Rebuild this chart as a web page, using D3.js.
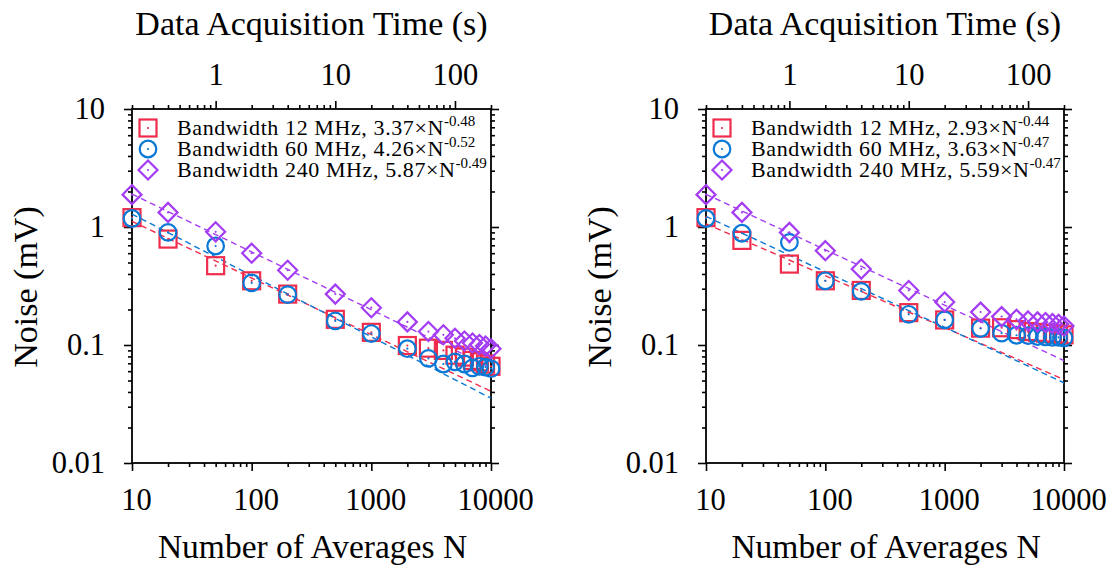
<!DOCTYPE html>
<html>
<head>
<meta charset="utf-8">
<title>Noise vs Number of Averages</title>
<script src="https://d3js.org/d3.v7.min.js"></script>
<style>
  body { margin: 0; background: #fff; }
  svg { display: block; }
  svg text { font-family: "Liberation Serif", "DejaVu Serif", serif !important; fill: #000; }
</style>
</head>
<body>
<svg id="chart" width="1109" height="565" font-family="Liberation Serif, DejaVu Serif, serif"></svg>
<script>
// number of averages N (same for both panels)
let nAverages = [10, 20, 50, 100, 200, 500, 1000, 2000, 3000, 4000, 5000, 6000, 7000, 8000, 9000, 10000];
let bandwidths = ["12", "60", "240"];

// left panel, noise in mV
let leftNoise12  = [1.20, 0.79, 0.47, 0.35, 0.27, 0.165, 0.128, 0.099, 0.094, 0.090, 0.082, 0.079, 0.074, 0.072, 0.069, 0.066];
let leftNoise60  = [1.18, 0.90, 0.69, 0.336, 0.267, 0.160, 0.125, 0.093, 0.077, 0.069, 0.072, 0.069, 0.064, 0.066, 0.065, 0.063];
let leftNoise240 = [1.88, 1.33, 0.91, 0.60, 0.43, 0.27, 0.207, 0.157, 0.130, 0.122, 0.114, 0.108, 0.104, 0.101, 0.098, 0.093];
let leftFits = [[3.37, -0.48], [4.26, -0.52], [5.87, -0.49]];

// right panel, noise in mV
let rightNoise12  = [1.20, 0.77, 0.485, 0.35, 0.29, 0.188, 0.163, 0.139, 0.140, 0.135, 0.130, 0.128, 0.126, 0.125, 0.124, 0.122];
let rightNoise60  = [1.18, 0.885, 0.74, 0.35, 0.285, 0.182, 0.163, 0.138, 0.126, 0.121, 0.120, 0.118, 0.117, 0.116, 0.116, 0.115];
let rightNoise240 = [1.88, 1.33, 0.90, 0.63, 0.44, 0.29, 0.231, 0.190, 0.174, 0.165, 0.160, 0.157, 0.155, 0.152, 0.150, 0.145];
let rightFits = [[2.93, -0.44], [3.63, -0.47], [5.59, -0.47]];

// acquisition time per average (s) -> top axis
let secondsPerAverage = 0.02;

let noiseTicks = [0.01, 0.1, 1, 10];
let averagesTicks = [10, 100, 1000, 10000];
let timeTicks = [1, 10, 100];

let colors = ["#f02c4c", "#0a78d6", "#a33cf2"];
let symbols = ["square", "circle", "diamond"];

let svg = d3.select("#chart");

drawPanel(132, 491, [leftNoise12, leftNoise60, leftNoise240], leftFits);
drawPanel(706, 1064, [rightNoise12, rightNoise60, rightNoise240], rightFits);

function drawPanel(x0, x1, series, fits) {
  let top = 109, bottom = 463;
  let g = svg.append("g");

  let x = d3.scaleLog().domain([10, 10000]).range([x0, x1]);
  let y = d3.scaleLog().domain([0.01, 10]).range([bottom, top]);
  let t = d3.scaleLog()
    .domain([10 * secondsPerAverage, 10000 * secondsPerAverage])
    .range([x0, x1]);

  let fmt = d => String(d);
  let minorOf = (scale, majors) => scale.ticks().filter(v => !majors.some(m => Math.abs(m - v) < 1e-9));

  // axes: ticks pointing outward, major 8px, minor 4px
  let axes = g.append("g").attr("class", "axes");

  axes.append("g").attr("transform", "translate(" + x0 + ",0)")
    .call(d3.axisLeft(y).tickValues(noiseTicks).tickFormat(fmt).tickSize(8).tickPadding(19));
  axes.append("g").attr("transform", "translate(" + x0 + ",0)")
    .call(d3.axisLeft(y).tickValues(minorOf(y, noiseTicks)).tickFormat("").tickSize(4));
  axes.append("g").attr("transform", "translate(" + x1 + ",0)")
    .call(d3.axisRight(y).tickValues(noiseTicks).tickFormat("").tickSize(8));
  axes.append("g").attr("transform", "translate(" + x1 + ",0)")
    .call(d3.axisRight(y).tickValues(minorOf(y, noiseTicks)).tickFormat("").tickSize(4));

  axes.append("g").attr("transform", "translate(0," + bottom + ")")
    .call(d3.axisBottom(x).tickValues(averagesTicks).tickFormat(fmt).tickSize(8).tickPadding(17))
    .selectAll("text").attr("dx", 4);
  axes.append("g").attr("transform", "translate(0," + bottom + ")")
    .call(d3.axisBottom(x).tickValues(minorOf(x, averagesTicks)).tickFormat("").tickSize(4));

  axes.append("g").attr("transform", "translate(0," + top + ")")
    .call(d3.axisTop(t).tickValues(timeTicks).tickFormat(fmt).tickSize(8).tickPadding(16));
  axes.append("g").attr("transform", "translate(0," + top + ")")
    .call(d3.axisTop(t).tickValues(minorOf(t, timeTicks)).tickFormat("").tickSize(4));

  axes.selectAll(".domain").remove();
  axes.selectAll("g").attr("font-family", null);
  axes.selectAll(".tick line").attr("stroke", "#000").attr("stroke-width", 1.6);
  axes.selectAll(".tick text").attr("font-size", 30.5);

  // frame
  g.append("rect")
    .attr("x", x0).attr("y", top)
    .attr("width", x1 - x0).attr("height", bottom - top)
    .attr("fill", "none").attr("stroke", "#000").attr("stroke-width", 1.8);

  // axis titles
  let xc = (x0 + x1) / 2;
  g.append("text").attr("x", xc).attr("y", 35)
    .attr("text-anchor", "middle").attr("font-size", 34)
    .text("Data Acquisition Time (s)");
  g.append("text").attr("x", xc + 1).attr("y", 558)
    .attr("text-anchor", "middle").attr("font-size", 33.5)
    .text("Number of Averages N");
  g.append("text")
    .attr("transform", "translate(" + (x0 - 95) + "," + ((top + bottom) / 2 + 1) + ") rotate(-90)")
    .attr("text-anchor", "middle").attr("font-size", 34)
    .text("Noise (mV)");

  // fit lines
  let line = d3.line().x(d => x(d[0])).y(d => y(d[1]));
  fits.forEach((f, i) => {
    let ends = x.domain().map(n => [n, f[0] * Math.pow(n, f[1])]);
    g.append("path")
      .attr("d", line(ends))
      .attr("fill", "none")
      .attr("stroke", colors[i])
      .attr("stroke-width", 1.4)
      .attr("stroke-dasharray", "6,4");
  });

  // data points
  series.forEach((vals, i) => {
    let pts = g.append("g");
    vals.forEach((v, k) => marker(pts, symbols[i], colors[i], x(nAverages[k]), y(v)));
  });

  // legend
  let leg = g.append("g");
  fits.forEach((f, i) => {
    let cy = 128 + i * 21;
    marker(leg, symbols[i], colors[i], x0 + 16, cy);
    let txt = leg.append("text").attr("x", x0 + 45).attr("y", cy + 7)
      .attr("font-size", 22).attr("letter-spacing", 0.6);
    txt.append("tspan").text("Bandwidth " + bandwidths[i] + " MHz, " + f[0].toFixed(2) + "\u00d7N");
    txt.append("tspan").attr("dy", -9).attr("font-size", 15).attr("letter-spacing", 0)
      .text(f[1].toFixed(2));
  });
}

function marker(g, kind, color, cx, cy) {
  let m = g.append("g").attr("fill", "none").attr("stroke", color).attr("stroke-width", 2.2);
  if (kind === "square") {
    m.append("rect").attr("x", cx - 8.5).attr("y", cy - 8.5).attr("width", 17).attr("height", 17);
  } else if (kind === "circle") {
    m.append("circle").attr("cx", cx).attr("cy", cy).attr("r", 8.3);
  } else {
    let r = 9.5;
    m.append("path").attr("d", "M" + cx + "," + (cy - r) + "L" + (cx + r) + "," + cy +
      "L" + cx + "," + (cy + r) + "L" + (cx - r) + "," + cy + "Z");
  }
  g.append("circle").attr("cx", cx).attr("cy", cy).attr("r", 1.1).attr("fill", color);
}
</script>
</body>
</html>
